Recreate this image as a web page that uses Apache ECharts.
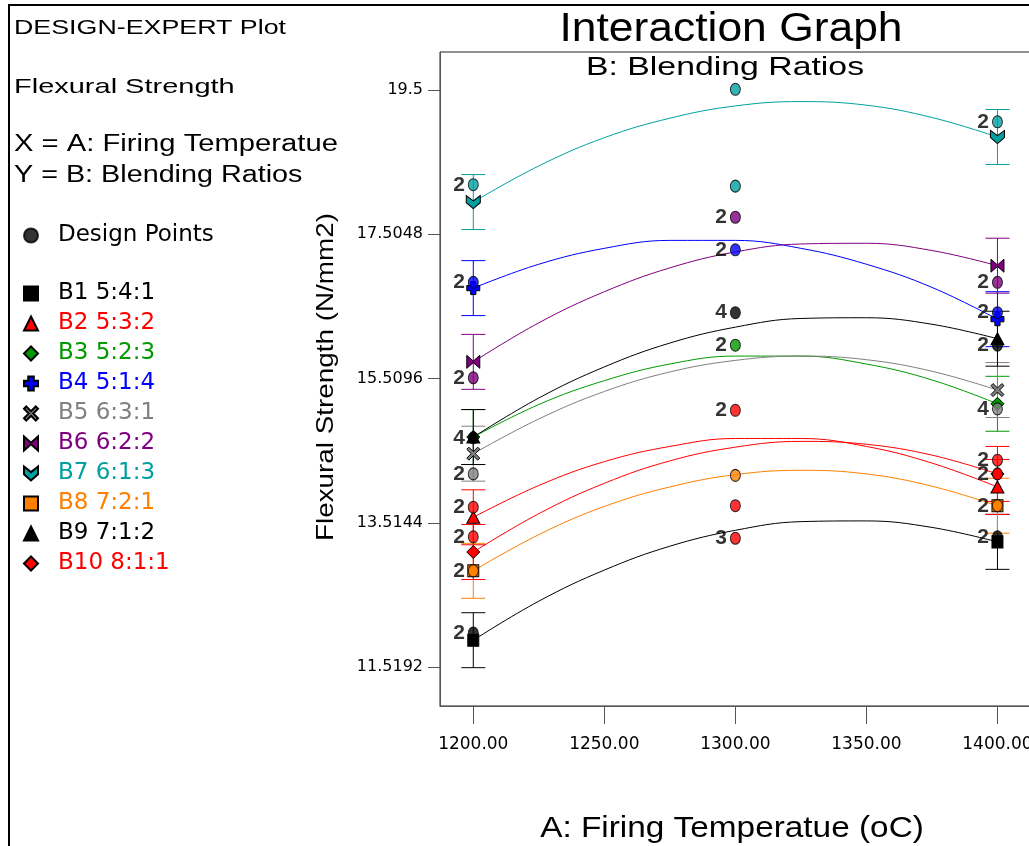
<!DOCTYPE html>
<html>
<head>
<meta charset="utf-8">
<title>Interaction Graph</title>
<script src="https://cdn.jsdelivr.net/npm/echarts@6/dist/echarts.min.js"></script>
<style>
html,body{margin:0;padding:0;background:#fff;}
#main{width:1029px;height:846px;}
</style>
</head>
<body>
<div id="main"></div>
<script>
/*数据*/
var temps = [1200, 1225, 1250, 1275, 1300, 1325, 1350, 1375, 1400];
var blendNames = ['B1 5:4:1', 'B2 5:3:2', 'B3 5:2:3', 'B4 5:1:4', 'B5 6:3:1', 'B6 6:2:2', 'B7 6:1:3', 'B8 7:2:1', 'B9 7:1:2', 'B10 8:1:1'];
var fitB1 = [11.89, 12.43, 12.86, 13.19, 13.41, 13.53, 13.54, 13.45, 13.25];
var fitB2 = [13.59, 14.03, 14.36, 14.57, 14.68, 14.68, 14.57, 14.34, 14.01];
var fitB3 = [14.70, 15.15, 15.48, 15.71, 15.82, 15.82, 15.71, 15.49, 15.16];
var fitB4 = [16.76, 17.09, 17.31, 17.42, 17.42, 17.31, 17.09, 16.77, 16.33];
var fitB5 = [14.47, 14.95, 15.33, 15.60, 15.76, 15.82, 15.77, 15.61, 15.35];
var fitB6 = [15.74, 16.28, 16.71, 17.04, 17.26, 17.37, 17.38, 17.28, 17.07];
var fitB7 = [17.95, 18.45, 18.84, 19.11, 19.28, 19.34, 19.29, 19.12, 18.85];
var fitB8 = [12.85, 13.35, 13.74, 14.01, 14.18, 14.24, 14.19, 14.02, 13.75];
var fitB9 = [14.70, 15.24, 15.67, 16.00, 16.22, 16.34, 16.35, 16.26, 16.06];
var fitB10 = [13.11, 13.64, 14.06, 14.37, 14.56, 14.64, 14.60, 14.45, 14.19];
var fits = [fitB1, fitB2, fitB3, fitB4, fitB5, fitB6, fitB7, fitB8, fitB9, fitB10];
var lsdHalf = 0.38;
var yTicks = [11.5192, 13.5144, 15.5096, 17.5048, 19.5];
var yTickLabels = ['11.5192', '13.5144', '15.5096', '17.5048', '19.5'];
var xTicks = [1200, 1250, 1300, 1350, 1400];
/*设计点: 温度, 值, 重复次数, 所属配比(1-10)*/
var designTemp = [1200, 1200, 1200, 1200, 1200, 1200, 1200, 1200, 1200,
	1300, 1300, 1300, 1300, 1300, 1300, 1300, 1300, 1300, 1300,
	1400, 1400, 1400, 1400, 1400, 1400, 1400, 1400, 1400];
var designValue = [18.19, 16.84, 15.52, 14.69, 14.19, 13.73, 13.32, 12.85, 11.99,
	19.51, 18.17, 17.74, 17.29, 16.42, 15.97, 15.07, 14.17, 13.75, 13.30,
	19.06, 16.84, 16.42, 15.97, 15.09, 14.38, 14.19, 13.75, 13.32];
var designCount = [2, 2, 2, 4, 2, 2, 2, 2, 2,
	1, 1, 2, 2, 4, 2, 2, 1, 1, 3,
	2, 2, 2, 2, 4, 2, 2, 2, 2];
var designBlend = [7, 4, 6, 9, 5, 2, 10, 8, 1,
	7, 7, 6, 4, 9, 3, 2, 8, 10, 2,
	7, 6, 4, 9, 5, 2, 10, 8, 1];

/*样式*/
var colors = ['#000000', '#ff0000', '#009900', '#0000ff', '#808080', '#800080', '#00a0a0', '#ff8000', '#000000', '#ff0000'];
var symbols = [
	'rect',
	'triangle',
	'diamond',
	'path://M3,0H7V3H10V7H7V10H3V7H0V3H3Z',
	'path://M1.6,0L5,3.4L8.4,0L10,1.6L6.6,5L10,8.4L8.4,10L5,6.6L1.6,10L0,8.4L3.4,5L0,1.6Z',
	'path://M0,0L5,4.4L10,0V10L5,5.6L0,10Z',
	'path://M0,0L5,4L10,0V5.5L5,10L0,5.5Z',
	'rect',
	'triangle',
	'diamond'
];
var symbolSizes = [[11, 12], [13, 12], [13, 13], [13, 13], [13, 13], [13, 13], [14, 13], [11, 12], [13, 12], [13, 13]];
var textFont = '"Liberation Sans", Arial, sans-serif';

var myChart = echarts.init(document.getElementById('main'));

var series = [];
/*误差棒*/
var barData = [];
for (var i = 0; i < fits.length; i++) {
	barData.push([temps[0], fits[i][0] - lsdHalf, fits[i][0] + lsdHalf, i]);
	barData.push([temps[temps.length - 1], fits[i][fits[i].length - 1] - lsdHalf, fits[i][fits[i].length - 1] + lsdHalf, i]);
}
series.push({
	name: 'LSD',
	type: 'custom',
	z: 2,
	data: barData,
	encode: {x: 0, y: [1, 2]},
	renderItem: function (params, api) {
		var top = api.coord([api.value(0), api.value(2)]);
		var bot = api.coord([api.value(0), api.value(1)]);
		var c = colors[api.value(3)];
		var w = 12;
		var st = {stroke: c, lineWidth: 1};
		return {
			type: 'group',
			children: [
				{type: 'line', shape: {x1: top[0], y1: top[1], x2: bot[0], y2: bot[1]}, style: st},
				{type: 'line', shape: {x1: top[0] - w, y1: top[1], x2: top[0] + w, y2: top[1]}, style: st},
				{type: 'line', shape: {x1: bot[0] - w, y1: bot[1], x2: bot[0] + w, y2: bot[1]}, style: st}
			]
		};
	}
});
/*拟合曲线*/
fits.forEach(function (fit, i) {
	series.push({
		name: blendNames[i],
		type: 'line',
		z: 3,
		smooth: 0.4,
		symbol: symbols[i],
		symbolSize: symbolSizes[i],
		lineStyle: {color: colors[i], width: 1},
		itemStyle: {color: colors[i], borderColor: '#000', borderWidth: 1},
		data: fit.map(function (v, j) {
			if (j === 0 || j === fit.length - 1) return [temps[j], v];
			return {value: [temps[j], v], symbol: 'none'};
		})
	});
});
/*设计点*/
series.push({
	name: 'Design Points',
	type: 'scatter',
	z: 5,
	symbol: 'circle',
	symbolSize: [10, 12],
	itemStyle: {color: '#000', borderColor: '#000', borderWidth: 1},
	label: {
		show: true,
		position: 'left',
		distance: 3,
		color: '#000',
		fontSize: 21,
		fontWeight: 'bold',
		fontFamily: textFont,
		formatter: function (p) {
			return p.value[2] > 1 ? String(p.value[2]) : '';
		}
	},
	data: designValue.map(function (v, k) {
		return {
			value: [designTemp[k], v, designCount[k]],
			itemStyle: {color: colors[designBlend[k] - 1]}
		};
	})
});

var option = {
	animation: false,
	backgroundColor: '#fff',
	grid: {left: 440, top: 52, width: 591, height: 654, show: true, borderColor: '#222', borderWidth: 1, containLabel: false, outerBoundsMode: 'none'},
	xAxis: {
		type: 'value',
		min: 1187.3,
		max: 1412.8,
		axisLine: {show: true, lineStyle: {color: '#555', width: 1}},
		axisTick: {show: true, length: 18, customValues: xTicks, lineStyle: {color: '#555'}},
		axisLabel: {
			customValues: xTicks,
			margin: 30,
			color: '#000',
			fontSize: 17,
			fontFamily: '"DejaVu Sans", sans-serif',
			hideOverlap: false,
			formatter: function (v) { return Number(v).toFixed(2); }
		},
		splitLine: {show: false}
	},
	yAxis: {
		type: 'value',
		min: 10.98,
		max: 20.0256,
		axisLine: {show: true, lineStyle: {color: '#555', width: 1}},
		axisTick: {show: true, length: 12, customValues: yTicks, lineStyle: {color: '#555'}},
		axisLabel: {
			customValues: yTicks,
			margin: 17,
			color: '#000',
			fontSize: 16,
			fontFamily: '"DejaVu Sans", sans-serif',
			formatter: function (v) {
				var best = 0;
				for (var k = 1; k < yTicks.length; k++) {
					if (Math.abs(yTicks[k] - v) < Math.abs(yTicks[best] - v)) best = k;
				}
				return yTickLabels[best];
			}
		},
		splitLine: {show: false}
	},
	legend: [{
		orient: 'vertical',
		left: 23,
		top: 224,
		padding: 0,
		selectedMode: false,
		itemWidth: 14,
		itemHeight: 14,
		textStyle: {fontSize: 23, fontFamily: '"DejaVu Sans", sans-serif', color: '#000', padding: [0, 0, 0, 15]},
		data: [{name: 'Design Points', icon: 'circle'}]
	}, {
		orient: 'vertical',
		left: 23,
		top: 282,
		padding: 0,
		itemGap: 7,
		selectedMode: false,
		itemWidth: 14,
		itemHeight: 14,
		textStyle: {fontSize: 23, fontFamily: '"DejaVu Sans", sans-serif', padding: [0, 0, 0, 15]},
		data: blendNames.map(function (n, i) {
			return {name: n, icon: symbols[i], textStyle: {color: colors[i]}};
		})
	}],
	graphic: [
		{type: 'rect', shape: {x: 9, y: 5, width: 1200, height: 1000}, style: {fill: 'none', stroke: '#000', lineWidth: 2}, silent: true},
		{type: 'text', x: 14, y: 28, scaleX: 1.34, style: {text: 'DESIGN-EXPERT Plot', font: '20px ' + textFont, fill: '#000', align: 'left', verticalAlign: 'middle'}},
		{type: 'text', x: 14, y: 87, scaleX: 1.38, style: {text: 'Flexural Strength', font: '21px ' + textFont, fill: '#000', align: 'left', verticalAlign: 'middle'}},
		{type: 'text', x: 14, y: 145, scaleX: 1.27, style: {text: 'X = A: Firing Temperatue', font: '23px ' + textFont, fill: '#000', align: 'left', verticalAlign: 'middle'}},
		{type: 'text', x: 14, y: 176, scaleX: 1.25, style: {text: 'Y = B: Blending Ratios', font: '23px ' + textFont, fill: '#000', align: 'left', verticalAlign: 'middle'}},
		{type: 'text', x: 731, y: 30, scaleX: 1.11, style: {text: 'Interaction Graph', font: '40px ' + textFont, fill: '#000', align: 'center', verticalAlign: 'middle'}},
		{type: 'text', x: 725, y: 68, scaleX: 1.3, style: {text: 'B: Blending Ratios', font: '26px ' + textFont, fill: '#000', align: 'center', verticalAlign: 'middle'}},
		{type: 'text', x: 732, y: 829, scaleX: 1.15, style: {text: 'A: Firing Temperatue (oC)', font: '29px ' + textFont, fill: '#000', align: 'center', verticalAlign: 'middle'}},
		{type: 'text', x: 326, y: 377, rotation: Math.PI / 2, scaleX: 1.16, style: {text: 'Flexural Strength (N/mm2)', font: '24px ' + textFont, fill: '#000', align: 'center', verticalAlign: 'middle'}}
	],
	series: series
};
myChart.setOption(option);
</script>
</body>
</html>
